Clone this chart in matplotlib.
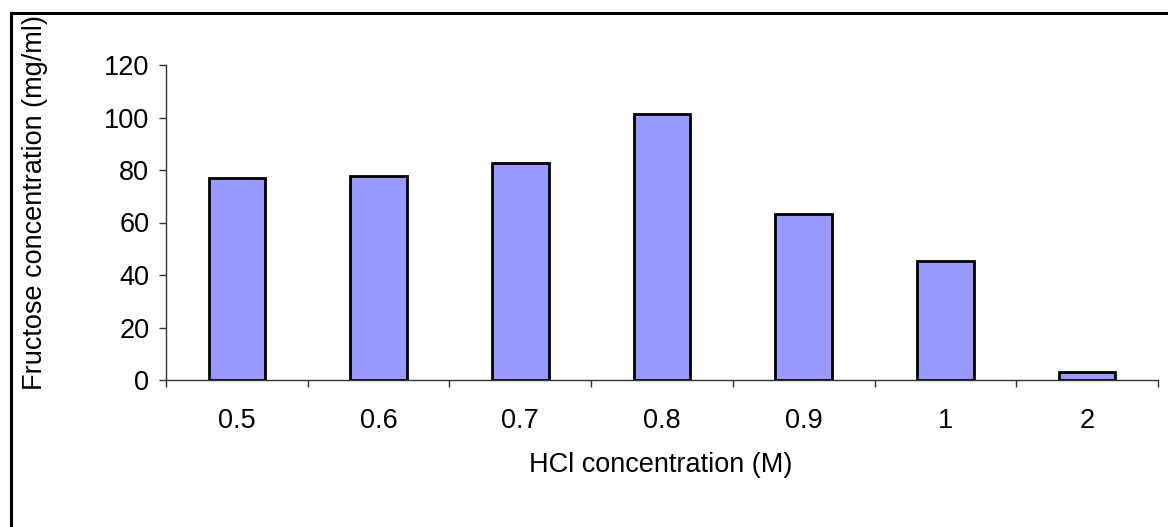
import matplotlib
matplotlib.use("Agg")
import matplotlib.pyplot as plt
from matplotlib.lines import Line2D
import numpy as np

# HCl concentration (M) and fructose yield (mg/ml)
hcl_labels = ["0.5", "0.6", "0.7", "0.8", "0.9", "1", "2"]
fructose = [76.8, 77.7, 82.5, 101.3, 63.1, 45.5, 3.0]

plt.rcParams["font.family"] = ["Liberation Sans", "DejaVu Sans"]
FS = 19.5

W, H = 1168, 527
fig = plt.figure(figsize=(W / 100, H / 100), dpi=100)
ax = fig.add_axes([166 / W, 1 - 380 / H, (1158 - 166) / W, (380 - 65) / H])

x = np.arange(len(hcl_labels))
ax.bar(x, fructose, width=0.4, color="#9999FF", edgecolor="black", linewidth=2, zorder=3)

ax.set_xlim(-0.5, len(hcl_labels) - 0.5)
ax.set_ylim(0, 120)
ax.set_yticks(np.arange(0, 121, 20))

# labels at category centres, tick marks between categories
ax.set_xticks(x)
ax.set_xticklabels(hcl_labels)
ax.set_xticks(np.arange(-0.5, len(hcl_labels)), minor=True)
ax.tick_params(axis="x", which="major", length=0, pad=20, labelsize=FS)
ax.tick_params(axis="x", which="minor", length=5, width=1, color="#333333", direction="out")
ax.tick_params(axis="y", length=5, width=1, color="#333333", direction="out", pad=7, labelsize=FS)

for side in ["top", "right"]:
    ax.spines[side].set_visible(False)
for side in ["left", "bottom"]:
    ax.spines[side].set_color("#333333")
    ax.spines[side].set_linewidth(1)

fig.text(35 / W, 1 - 203 / H, "Fructose concentration (mg/ml)", rotation=90,
         ha="center", va="center", fontsize=FS)
fig.text(661 / W, 1 - 465 / H, "HCl concentration (M)", ha="center", va="center", fontsize=FS)

# chart frame (left and top edges)
fig.add_artist(Line2D([11 / W, 11 / W], [0, 1 - 13 / H], transform=fig.transFigure,
                      color="black", linewidth=2.2, solid_capstyle="projecting"))
fig.add_artist(Line2D([11 / W, 1], [1 - 13 / H, 1 - 13 / H], transform=fig.transFigure,
                      color="black", linewidth=2.2, solid_capstyle="projecting"))

fig.savefig("out.png", dpi=100)
